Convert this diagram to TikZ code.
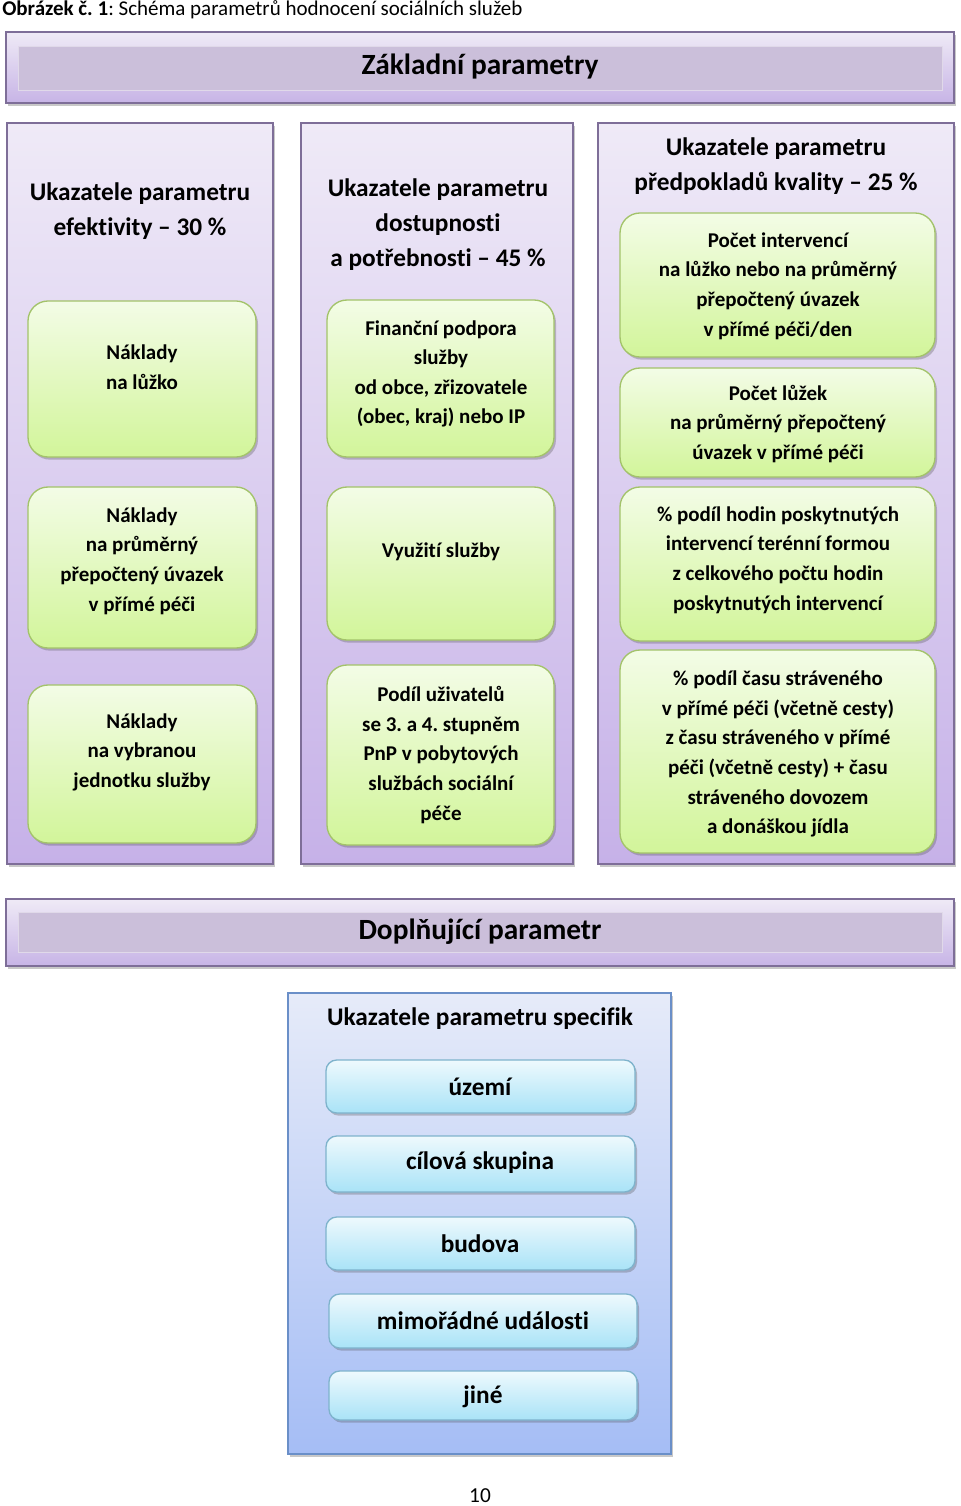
\documentclass[tikz,border=0pt]{standalone}
\usepackage{fontspec}
\setmainfont{Carlito}[Ligatures={NoCommon}]
\frenchspacing
\usetikzlibrary{shadows,fit}
\definecolor{hdrtop}{HTML}{EFEAF6}
\definecolor{hdrbot}{HTML}{C7B4E6}
\definecolor{hdrband}{HTML}{CBBFDA}
\definecolor{hdrborder}{HTML}{7E6E98}
\definecolor{coltop}{HTML}{EFEAF7}
\definecolor{colbot}{HTML}{C6B1E8}
\definecolor{gtop}{HTML}{F3FCE6}
\definecolor{gbot}{HTML}{D2F59A}
\definecolor{gborder}{HTML}{A3C36A}
\definecolor{ptop}{HTML}{E6EBF9}
\definecolor{pbot}{HTML}{A5BDF5}
\definecolor{pborder}{HTML}{6A8FC8}
\definecolor{btop}{HTML}{EEF9FD}
\definecolor{bbot}{HTML}{A9E3F7}
\definecolor{bborder}{HTML}{7EB3CC}
\begin{document}
\begin{tikzpicture}[x=0.75pt,y=-0.75pt,
  shad/.style={drop shadow={shadow xshift=1.5pt,shadow yshift=-2pt,opacity=0.3,fill=black!70}},
  hdrbar/.style={draw=hdrborder,line width=0.8pt,top color=hdrtop,bottom color=hdrbot,shad,inner sep=0pt},
  hdrband/.style={fill=hdrband,draw=hdrband!60!white,line width=0.6pt,inner sep=0pt},
  colpanel/.style={draw=hdrborder,line width=0.8pt,top color=coltop,bottom color=colbot,shad,inner sep=0pt},
  bpanel/.style={draw=pborder,line width=0.8pt,top color=ptop,bottom color=pbot,shad,inner sep=0pt},
  gbox/.style={rounded corners=15pt,draw=gborder,line width=1pt,top color=gtop,bottom color=gbot,shad,inner sep=0pt},
  bbox/.style={rounded corners=8pt,draw=bborder,line width=1pt,top color=btop,bottom color=bbot,shad,inner sep=0pt},
  coltitle/.style={font=\bfseries\fontsize{19}{26.25}\selectfont,align=center},
  gtxt/.style={font=\bfseries\fontsize{15.75}{22.2}\selectfont,align=center},
  btxt/.style={font=\bfseries\fontsize{19}{24}\selectfont},
  htxt/.style={font=\bfseries\fontsize{22}{26}\selectfont}]
\useasboundingbox (0,0) rectangle (960,1506);
\fill[white] (0,0) rectangle (960,1506);

% title
\node[anchor=west,font=\fontsize{15.75}{18}\selectfont,inner sep=0pt] (title) at (2,10) {\textbf{Obrázek č. 1}: Schéma parametrů hodnocení sociálních služeb};

% top header
\node[hdrbar,fit={(6,32) (954,103)}] (hdr1) {};
\node[hdrband,fit={(18,46) (942,90)}] (band1) {};
\node[htxt] (hdr1t) at (480,67) {Základní parametry};

% columns
\node[colpanel,fit={(7,123) (273,864)}] (col1) {};
\node[colpanel,fit={(301,123) (573,864)}] (col2) {};
\node[colpanel,fit={(598,123) (954,864)}] (col3) {};

\node[coltitle] (col1t) at (140,211) {Ukazatele parametru\\efektivity -- 30 \%};
\node[coltitle] (col2t) at (438,225) {Ukazatele parametru\\dostupnosti\\a potřebnosti -- 45 \%};
\node[coltitle] (col3t) at (776,166) {Ukazatele parametru\\předpokladů kvality -- 25 \%};

% column 1 boxes
\node[gbox,fit={(28,301) (256,457)}] (e1) {};
\node[gtxt] (e1t) at (142,367) {Náklady\\na lůžko};
\node[gbox,fit={(28,487) (256,648)}] (e2) {};
\node[gtxt] (e2t) at (142,561) {Náklady\\na průměrný\\přepočtený úvazek\\v přímé péči};
\node[gbox,fit={(28,685) (256,843)}] (e3) {};
\node[gtxt] (e3t) at (142,752) {Náklady\\na vybranou\\jednotku služby};

% column 2 boxes
\node[gbox,fit={(327,300) (554,457)}] (d1) {};
\node[gtxt] (d1t) at (441,374) {Finanční podpora\\služby\\od obce, zřizovatele\\(obec, kraj) nebo IP};
\node[gbox,fit={(327,487) (554,640)}] (d2) {};
\node[gtxt] (d2t) at (441,552) {Využití služby};
\node[gbox,fit={(327,665) (554,845)}] (d3) {};
\node[gtxt] (d3t) at (441,755) {Podíl uživatelů\\se 3. a 4. stupněm\\PnP v pobytových\\službách sociální\\péče};

% column 3 boxes
\node[gbox,fit={(620,213) (935,357)}] (k1) {};
\node[gtxt] (k1t) at (778,286) {Počet intervencí\\na lůžko nebo na průměrný\\přepočtený úvazek\\v přímé péči/den};
\node[gbox,fit={(620,368) (935,477)}] (k2) {};
\node[gtxt] (k2t) at (778,424) {Počet lůžek\\na průměrný přepočtený\\úvazek v přímé péči};
\node[gbox,fit={(620,487) (935,641)}] (k3) {};
\node[gtxt] (k3t) at (778,560) {\% podíl hodin poskytnutých\\intervencí terénní formou\\z celkového počtu hodin\\poskytnutých intervencí};
\node[gbox,fit={(620,650) (935,853)}] (k4) {};
\node[gtxt] (k4t) at (778,754) {\% podíl času stráveného\\v přímé péči (včetně cesty)\\z času stráveného v přímé\\péči (včetně cesty) + času\\stráveného dovozem\\a donáškou jídla};

% bottom header
\node[hdrbar,fit={(6,899) (954,966)}] (hdr2) {};
\node[hdrband,fit={(18,912) (942,952)}] (band2) {};
\node[htxt] (hdr2t) at (480,932) {Doplňující parametr};

% specific panel
\node[bpanel,fit={(288,993) (671,1454)}] (sp) {};
\node[btxt] (spt) at (480,1019) {Ukazatele parametru specifik};
\node[bbox,fit={(326,1060) (635,1113)}] (s1) {};
\node[btxt] (s1t) at (480,1087) {území};
\node[bbox,fit={(326,1136) (635,1192)}] (s2) {};
\node[btxt] (s2t) at (480,1163) {cílová skupina};
\node[bbox,fit={(326,1217) (635,1270)}] (s3) {};
\node[btxt] (s3t) at (480,1244) {budova};
\node[bbox,fit={(329,1294) (637,1348)}] (s4) {};
\node[btxt] (s4t) at (483,1321) {mimořádné události};
\node[bbox,fit={(329,1371) (637,1420)}] (s5) {};
\node[btxt] (s5t) at (483,1397) {jiné};

% page number
\node[font=\fontsize{16}{18}\selectfont] (pg) at (480,1496) {10};
\end{tikzpicture}
\end{document}
